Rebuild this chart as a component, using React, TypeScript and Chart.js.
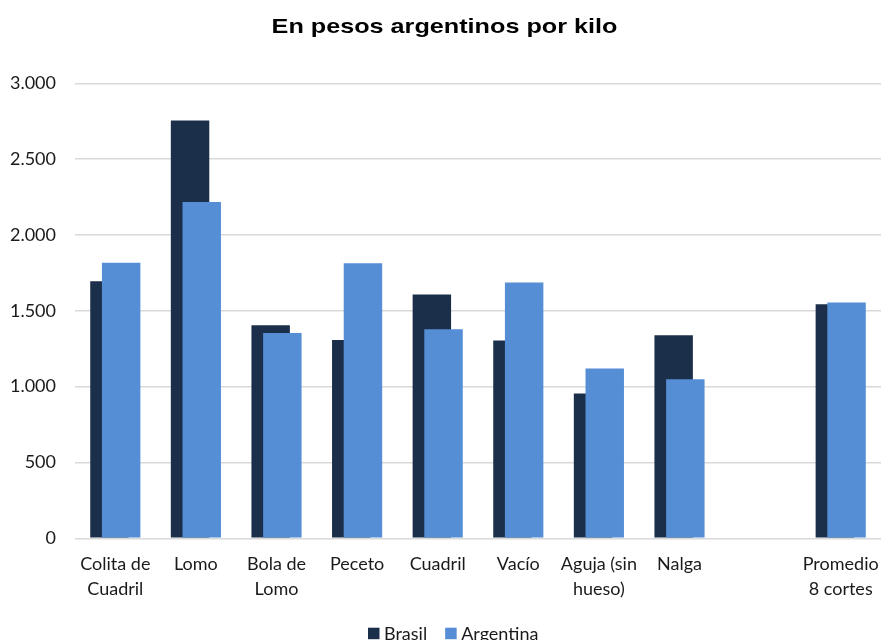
import React, { useEffect, useRef } from "react";
import { Chart, registerables } from "chart.js";

Chart.register(...registerables);

const title = "En pesos argentinos por kilo";

const categories: (string | string[])[] = [
  ["Colita de", "Cuadril"],
  "Lomo",
  ["Bola de", "Lomo"],
  "Peceto",
  "Cuadril",
  "Vacío",
  ["Aguja (sin", "hueso)"],
  "Nalga",
  "",
  ["Promedio", "8 cortes"],
];

const brasil: (number | null)[] = [1695, 2755, 1405, 1308, 1608, 1305, 955, 1338, null, 1543];
const argentina: (number | null)[] = [1816, 2217, 1354, 1813, 1379, 1686, 1120, 1048, null, 1554];

const yTicks = [0, 500, 1000, 1500, 2000, 2500, 3000];

const FONT = "Lato, 'Open Sans', sans-serif";

function fmt(v: number): string {
  return String(v).replace(/\B(?=(\d{3})+(?!\d))/g, ".");
}

// Draw datasets in index order so the right-hand (Argentina) bars sit on top.
const drawOrderPlugin = {
  id: "drawOrder",
  beforeDatasetsDraw(chart: any) {
    const ctx = chart.ctx;
    const area = chart.chartArea;
    ctx.save();
    ctx.beginPath();
    ctx.rect(area.left, area.top - 2, area.right - area.left, area.bottom - area.top + 2);
    ctx.clip();
    for (let i = 0; i < chart.data.datasets.length; i++) {
      const meta = chart.getDatasetMeta(i);
      if (meta.visible !== false) meta.controller.draw();
    }
    ctx.restore();
    return false;
  },
};

const titlePlugin = {
  id: "wideTitle",
  afterDraw(chart: any) {
    const ctx = chart.ctx;
    ctx.save();
    ctx.font = "bold 21px 'Liberation Sans', Arial, sans-serif";
    ctx.fillStyle = "#000000";
    ctx.textAlign = "center";
    ctx.textBaseline = "alphabetic";
    const sx = 1.2;
    ctx.translate(444.5, 33);
    ctx.scale(sx, 1);
    ctx.fillText(title, 0, 0);
    ctx.restore();
  },
};

const legendPlugin = {
  id: "customLegend",
  afterDraw(chart: any) {
    const ctx = chart.ctx;
    ctx.save();
    ctx.font = "18px " + FONT;
    ctx.textAlign = "left";
    ctx.textBaseline = "alphabetic";
    let x = 368;
    const box = 11.5;
    chart.data.datasets.forEach((ds: any) => {
      ctx.fillStyle = ds.backgroundColor;
      ctx.fillRect(x, 627.7, box, box);
      x += box + 4.5;
      ctx.fillStyle = "#1a1a1a";
      ctx.fillText(ds.label, x, 640);
      x += ctx.measureText(ds.label).width + 18;
    });
    ctx.restore();
  },
};

export default function App() {
  const ref = useRef<HTMLCanvasElement | null>(null);

  useEffect(() => {
    if (!ref.current) return;
    const chart = new Chart(ref.current, {
      type: "bar",
      data: {
        labels: categories,
        datasets: [
          {
            label: "Brasil",
            data: brasil,
            backgroundColor: "#1C2F4A",
            categoryPercentage: 0.29,
            barPercentage: 3.29,
          },
          {
            label: "Argentina",
            data: argentina,
            backgroundColor: "#558ED5",
            categoryPercentage: 0.29,
            barPercentage: 3.29,
          },
        ],
      },
      plugins: [drawOrderPlugin, titlePlugin, legendPlugin],
      options: {
        animation: false,
        responsive: false,
        layout: { padding: { left: 0, right: 0, top: 83.3, bottom: 25 } },
        plugins: {
          title: { display: false },
          legend: { display: false },
          tooltip: { enabled: false },
        },
        scales: {
          x: {
            grid: { display: false, drawTicks: false },
            border: { display: false },
            ticks: {
              color: "#1a1a1a",
              font: { family: FONT, size: 18, lineHeight: 1.39 },
              maxRotation: 0,
              autoSkip: false,
              padding: 13,
            },
            afterFit: (s: any) => {
              s.height = 76.7;
              s.paddingLeft = 0;
              s.paddingRight = 0;
            },
          },
          y: {
            min: 0,
            max: 3000,
            afterBuildTicks: (s: any) => {
              s.ticks = yTicks.map((v) => ({ value: v }));
            },
            grid: { color: "#D9D9D9", lineWidth: 1.5, drawTicks: false },
            border: { display: false },
            ticks: {
              color: "#1a1a1a",
              font: { family: FONT, size: 18 },
              padding: 19,
              callback: (v: any) => fmt(Number(v)),
            },
            afterFit: (s: any) => {
              s.width = 75;
            },
          },
        },
      },
    });
    return () => chart.destroy();
  }, []);

  return (
    <div style={{ position: "fixed", left: 0, top: 0, width: 881, height: 640, background: "#fff" }}>
      <canvas ref={ref} width={881} height={640} style={{ display: "block" }} />
    </div>
  );
}
